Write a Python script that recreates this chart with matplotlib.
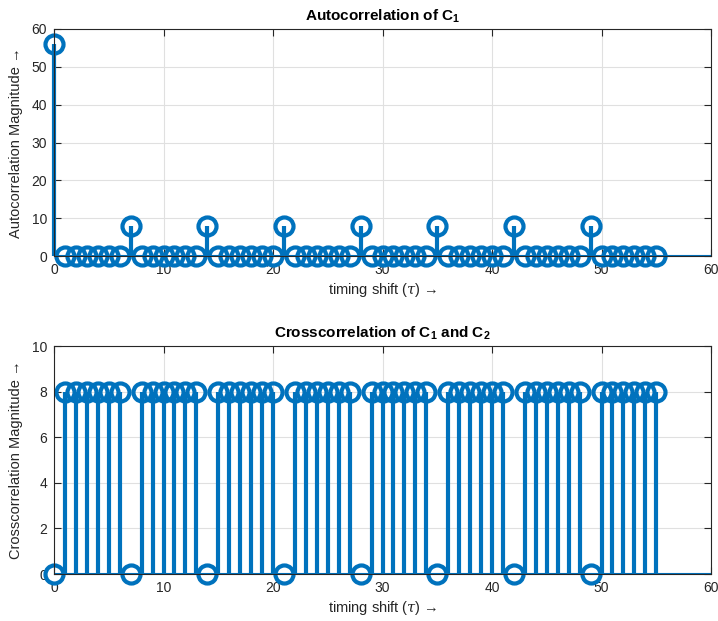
import numpy as np
import matplotlib
matplotlib.use('Agg')
import matplotlib.pyplot as plt

# timing shifts and correlation values
tau = list(range(0, 56))
auto_c1 = [56, 0, 0, 0, 0, 0, 0,
           8, 0, 0, 0, 0, 0, 0,
           8, 0, 0, 0, 0, 0, 0,
           8, 0, 0, 0, 0, 0, 0,
           8, 0, 0, 0, 0, 0, 0,
           8, 0, 0, 0, 0, 0, 0,
           8, 0, 0, 0, 0, 0, 0,
           8, 0, 0, 0, 0, 0, 0]
cross_c1c2 = [0, 8, 8, 8, 8, 8, 8,
              0, 8, 8, 8, 8, 8, 8,
              0, 8, 8, 8, 8, 8, 8,
              0, 8, 8, 8, 8, 8, 8,
              0, 8, 8, 8, 8, 8, 8,
              0, 8, 8, 8, 8, 8, 8,
              0, 8, 8, 8, 8, 8, 8,
              0, 8, 8, 8, 8, 8, 8]

plt.rcParams['font.family'] = ['Liberation Sans', 'DejaVu Sans']
plt.rcParams['mathtext.fontset'] = 'custom'
plt.rcParams['mathtext.rm'] = 'Liberation Sans'
plt.rcParams['mathtext.bf'] = 'Liberation Sans:bold'
plt.rcParams['mathtext.it'] = 'DejaVu Serif:italic'

blue = '#0072BD'
dark = '#262626'

fig = plt.figure(figsize=(7.18, 6.21), dpi=100)
ax1 = fig.add_axes([54/718, 1-256/621, 657/718, 227/621])
ax2 = fig.add_axes([54/718, 1-574/621, 657/718, 228/621])


def draw_stem(ax, x, y, ylim, yticks, ylabel, title):
    markers, stems, base = ax.stem(x, y, linefmt='-', markerfmt='o', basefmt=' ')
    plt.setp(stems, color=blue, linewidth=3)
    markers.set_markerfacecolor('none')
    markers.set_markeredgecolor(blue)
    markers.set_markeredgewidth(3)
    markers.set_markersize(13)
    markers.set_clip_on(False)
    stems.set_clip_on(False)
    ax.axhline(0, color=blue, linewidth=1.5, zorder=1)
    ax.set_xlim(0, 60)
    ax.set_ylim(*ylim)
    ax.set_xticks(range(0, 61, 10))
    ax.set_yticks(yticks)
    ax.grid(True, color='#e0e0e0', linewidth=0.8)
    ax.set_axisbelow(True)
    ax.tick_params(direction='in', top=True, right=True, labelsize=10,
                   colors=dark, length=5, width=0.8, pad=5)
    for s in ax.spines.values():
        s.set_color(dark)
        s.set_linewidth(0.8)
    ax.set_xlabel(r'timing shift ($\tau$) →', fontsize=10.5, color=dark, labelpad=3)
    ax.set_ylabel(ylabel + ' →', fontsize=10.5, color=dark, labelpad=6)
    ax.set_title(title, fontsize=11, fontweight='bold', pad=6)


draw_stem(ax1, tau, auto_c1, (0, 60), range(0, 61, 10),
          'Autocorrelation Magnitude', r'Autocorrelation of C$_\mathbf{1}$')
draw_stem(ax2, tau, cross_c1c2, (0, 10), range(0, 11, 2),
          'Crosscorrelation Magnitude', r'Crosscorrelation of C$_\mathbf{1}$ and C$_\mathbf{2}$')

fig.savefig('out.png', dpi=100)
